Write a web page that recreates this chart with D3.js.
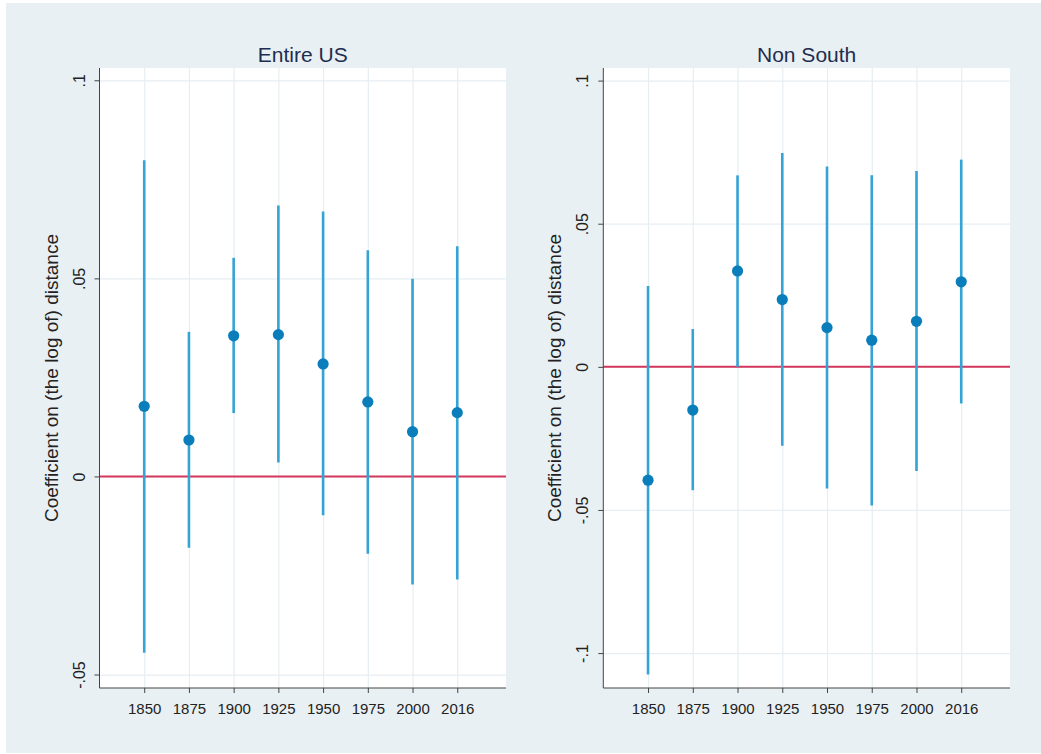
<!DOCTYPE html>
<html><head><meta charset="utf-8">
<script src="https://cdn.jsdelivr.net/npm/d3@7"></script>
<style>
html,body{margin:0;padding:0;background:#fff;}
svg{display:block;font-family:"Liberation Sans",Arial,Helvetica,sans-serif;}
</style></head>
<body>
<svg id="chart" width="1041" height="754"></svg>
<script>
// ---- data ----
const years = ["1850","1875","1900","1925","1950","1975","2000","2016"];
const usCoef = [0.0177, 0.0092, 0.0355, 0.0358, 0.0284, 0.0188, 0.0113, 0.0161];
const usHi   = [0.0798, 0.0365, 0.0552, 0.0684, 0.0669, 0.0571, 0.0499, 0.0581];
const usLo   = [-0.0445, -0.0180, 0.0160, 0.0035, -0.0098, -0.0195, -0.0273, -0.0260];
const nsCoef = [-0.0396, -0.0151, 0.0335, 0.0235, 0.0137, 0.0093, 0.0159, 0.0297];
const nsHi   = [0.0282, 0.0132, 0.0669, 0.0747, 0.0700, 0.0669, 0.0684, 0.0724];
const nsLo   = [-0.1075, -0.0431, 0.0000, -0.0276, -0.0425, -0.0484, -0.0364, -0.0128];
const usTicks = [-0.05, 0, 0.05, 0.1];
const usTickLabels = ["-.05", "0", ".05", ".1"];
const nsTicks = [-0.1, -0.05, 0, 0.05, 0.1];
const nsTickLabels = ["-.1", "-.05", "0", ".05", ".1"];
const titles = ["Entire US", "Non South"];
const yTitle = "Coefficient on (the log of) distance";

const svg = d3.select("#chart");
svg.append("rect").attr("x", 6).attr("y", 3).attr("width", 1035).attr("height", 750).attr("fill", "#e9f0f3");

const panels = [
  {title: titles[0], coef: usCoef, lo: usLo, hi: usHi, ticks: usTicks, labels: usTickLabels,
   x0: 99.5, x1: 506, ydom: [-0.0534, 0.1031]},
  {title: titles[1], coef: nsCoef, lo: nsLo, hi: nsHi, ticks: nsTicks, labels: nsTickLabels,
   x0: 603.3, x1: 1010, ydom: [-0.1122, 0.1044]}
];
const plotTop = 68, plotBottom = 688;

panels.forEach(p => {
  const x = d3.scaleLinear().domain([0, 9.09]).range([p.x0, p.x1]);
  const y = d3.scaleLinear().domain(p.ydom).range([plotBottom, plotTop]);
  const pos = years.map((d, i) => i + 1);
  const g = svg.append("g");

  g.append("rect").attr("x", p.x0).attr("y", plotTop).attr("width", p.x1 - p.x0).attr("height", plotBottom - plotTop).attr("fill", "#fff");

  // grid lines
  const gy = g.append("g").attr("transform", `translate(${p.x0},0)`)
    .call(d3.axisLeft(y).tickValues(p.ticks).tickSize(-(p.x1 - p.x0)).tickFormat(""));
  gy.select(".domain").remove();
  gy.selectAll("line").attr("stroke", "#e6eef2").attr("stroke-width", 1.2);
  const gx = g.append("g").attr("transform", `translate(0,${plotBottom})`)
    .call(d3.axisBottom(x).tickValues(pos).tickSize(-(plotBottom - plotTop)).tickFormat(""));
  gx.select(".domain").remove();
  gx.selectAll("line").attr("stroke", "#e6eef2").attr("stroke-width", 1.2);

  // zero line
  g.append("line").attr("x1", p.x0).attr("x2", p.x1).attr("y1", y(0)).attr("y2", y(0))
    .attr("stroke", "#d6375c").attr("stroke-width", 2);

  // error bars
  g.selectAll(".eb").data(pos).enter().append("line")
    .attr("x1", d => x(d)).attr("x2", d => x(d))
    .attr("y1", (d, i) => y(p.lo[i])).attr("y2", (d, i) => y(p.hi[i]))
    .attr("stroke", "#35a3d4").attr("stroke-width", 2.6);
  g.selectAll(".pt").data(pos).enter().append("circle")
    .attr("cx", d => x(d)).attr("cy", (d, i) => y(p.coef[i])).attr("r", 5.6)
    .attr("fill", "#0a7dbb");

  // y axis
  const ay = g.append("g").attr("transform", `translate(${p.x0},0)`)
    .call(d3.axisLeft(y).tickValues(p.ticks).tickSize(5).tickFormat((d, i) => p.labels[i]));
  ay.select(".domain").attr("d", `M0,${plotTop}V${plotBottom}`).attr("stroke", "#444");
  ay.selectAll("line").attr("stroke", "#444");
  ay.selectAll("text")
    .attr("x", 0).attr("y", 0).attr("dy", null)
    .attr("text-anchor", "middle")
    .attr("transform", "translate(-15,0) rotate(-90)")
    .style("font-size", "16px").attr("fill", "#222");

  // x axis
  const ax = g.append("g").attr("transform", `translate(0,${plotBottom})`)
    .call(d3.axisBottom(x).tickValues(pos).tickSize(5).tickFormat((d, i) => years[i]));
  ax.select(".domain").attr("d", `M${p.x0},0H${p.x1}`).attr("stroke", "#444");
  ax.selectAll("line").attr("stroke", "#444");
  ax.selectAll("text").attr("y", 26).attr("dy", null).style("font-size", "15px").attr("fill", "#222");

  // titles
  g.append("text").attr("x", (p.x0 + p.x1) / 2).attr("y", 61.5).attr("text-anchor", "middle")
    .style("font-size", "21px").attr("fill", "#1e2d4f").text(p.title);
  g.append("text").attr("transform", `translate(${p.x0 - 42},${(plotTop + plotBottom) / 2}) rotate(-90)`)
    .attr("text-anchor", "middle").style("font-size", "19px").attr("fill", "#222").text(yTitle);
});
</script>
</body></html>
